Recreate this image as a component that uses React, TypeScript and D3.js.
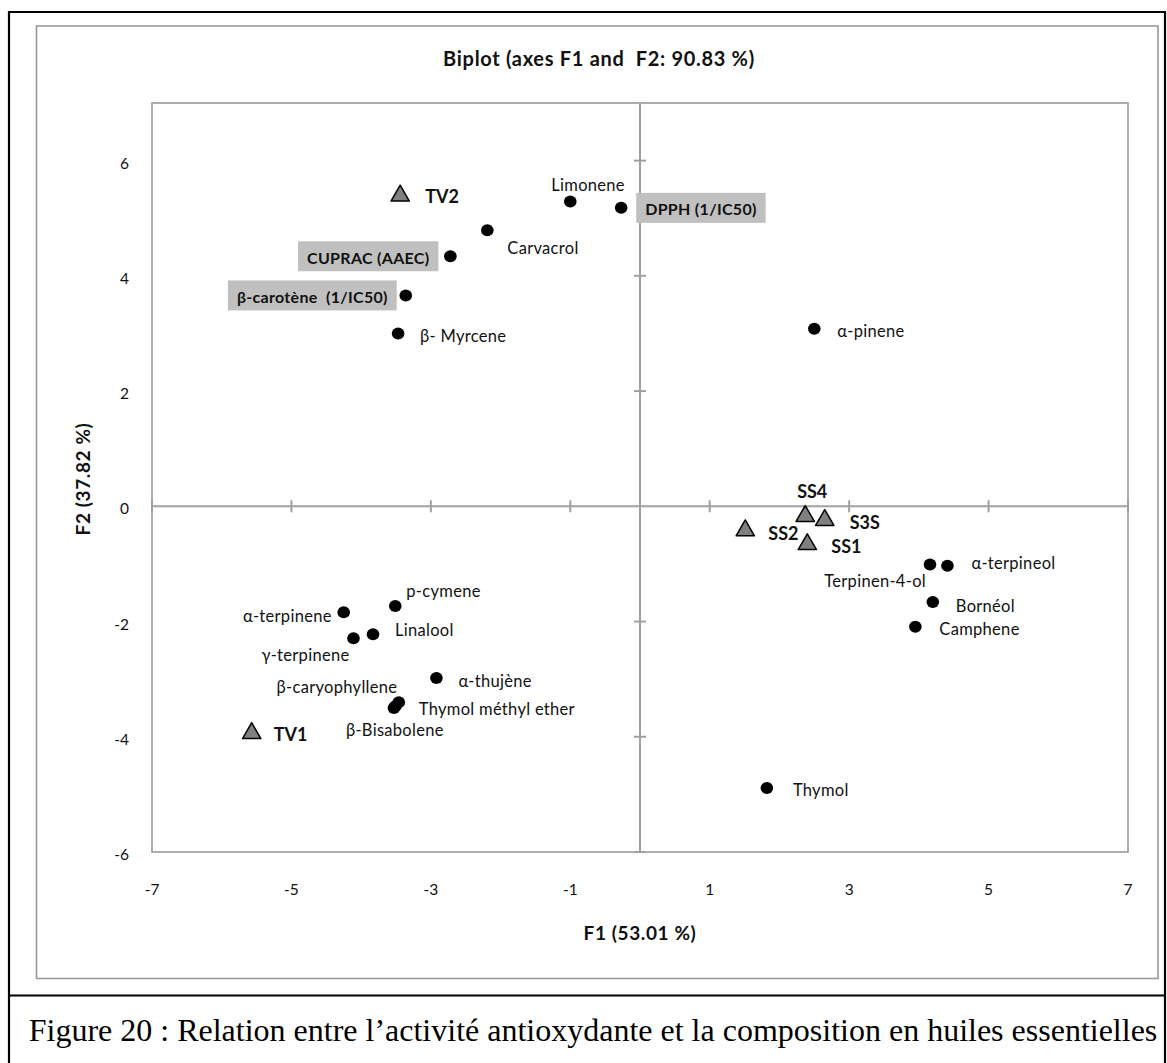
import React, { useEffect, useRef } from "react";
import * as d3 from "d3";

// ---------- DATA ----------
const variableNames = [
  "Limonene", "Carvacrol", "β- Myrcene", "α-pinene", "Terpinen-4-ol", "α-terpineol",
  "Bornéol", "Camphene", "Thymol", "p-cymene", "α-terpinene", "Linalool", "γ-terpinene",
  "α-thujène", "β-caryophyllene", "Thymol méthyl ether", "β-Bisabolene",
];
const variableF1 = [-1.0, -2.19, -3.47, 2.5, 4.16, 4.41, 4.2, 3.95, 1.82, -3.51, -4.25, -3.83, -4.11, -2.92, -3.51, -3.46, -3.53];
const variableF2 = [5.29, 4.79, 3.0, 3.08, -1.01, -1.03, -1.66, -2.09, -4.89, -1.73, -1.84, -2.22, -2.29, -2.98, -3.47, -3.4, -3.5];

const activityNames = ["DPPH (1/IC50)", "CUPRAC (AAEC)", "β-carotène  (1/IC50)"];
const activityF1 = [-0.27, -2.72, -3.36];
const activityF2 = [5.18, 4.34, 3.66];

const observationNames = ["TV2", "TV1", "SS4", "S3S", "SS2", "SS1"];
const observationF1 = [-3.44, -5.57, 2.37, 2.65, 1.51, 2.4];
const observationF2 = [5.39, -3.94, -0.17, -0.24, -0.42, -0.66];

const xTicks = [-7, -5, -3, -1, 1, 3, 5, 7];
const yTicks = [-6, -4, -2, 0, 2, 4, 6];

const chartTitle = "Biplot (axes F1 and  F2: 90.83 %)";
const xTitle = "F1 (53.01 %)";
const yTitle = "F2 (37.82 %)";
const caption = "Figure 20 : Relation entre l’activité antioxydante et la composition en huiles essentielles";

// ---------- LAYOUT (label placement relative to marker, px) ----------
const varLabelLayout: Record<string, [number, number, string]> = {
  "Limonene": [-19, -17, "start"],
  "Carvacrol": [20, 18, "start"],
  "β- Myrcene": [22, 3, "start"],
  "α-pinene": [23, 2, "start"],
  "Terpinen-4-ol": [-4, 17, "end"],
  "α-terpineol": [24, -3, "start"],
  "Bornéol": [23, 4, "start"],
  "Camphene": [24, 2, "start"],
  "Thymol": [26, 2, "start"],
  "p-cymene": [11, -15, "start"],
  "α-terpinene": [-12, 4, "end"],
  "Linalool": [22, -4, "start"],
  "γ-terpinene": [-4, 17, "end"],
  "α-thujène": [22, 3, "start"],
  "β-caryophyllene": [2, -19, "end"],
  "Thymol méthyl ether": [20, 7, "start"],
  "β-Bisabolene": [-48, 22, "start"],
};
const obsLabelLayout: Record<string, [number, number, string]> = {
  "TV2": [25, 0, "start"],
  "TV1": [22, 1, "start"],
  "SS4": [7, -25, "middle"],
  "S3S": [25, 2, "start"],
  "SS2": [23, 2, "start"],
  "SS1": [24, 2, "start"],
};
// [gap from dot, side]: side 1 = box right of dot, -1 = box left of dot
const actLabelLayout: Record<string, [number, number]> = {
  "DPPH (1/IC50)": [15, 1],
  "CUPRAC (AAEC)": [-12, -1],
  "β-carotène  (1/IC50)": [-9, -1],
};

const W = 1167;
const H = 1063;
const FONT = "Lato, 'Open Sans', sans-serif";

export default function App() {
  const ref = useRef<SVGSVGElement | null>(null);

  useEffect(() => {
    const svg = d3.select(ref.current);
    svg.selectAll("*").remove();

    const x = d3.scaleLinear().domain([-7, 7]).range([152, 1128]);
    const y = d3.scaleLinear().domain([-6, 7]).range([852, 103]);
    const axisGray = "#a0a0a0";

    // Outer black frame + caption separator
    svg.append("path")
      .attr("d", `M9,${H + 5} V12 H1165 V${H + 5}`)
      .attr("fill", "none").attr("stroke", "#000").attr("stroke-width", 2.2);
    svg.append("line").attr("x1", 9).attr("x2", 1165).attr("y1", 995.5).attr("y2", 995.5)
      .attr("stroke", "#000").attr("stroke-width", 2.2);

    // Chart area border
    svg.append("rect").attr("x", 36.5).attr("y", 26).attr("width", 1121.5).attr("height", 952.5)
      .attr("fill", "none").attr("stroke", "#999").attr("stroke-width", 1.6);

    // Plot area border
    svg.append("rect").attr("x", x(-7)).attr("y", y(7)).attr("width", x(7) - x(-7)).attr("height", y(-6) - y(7))
      .attr("fill", "none").attr("stroke", "#999").attr("stroke-width", 1.6);

    // Axes lines through origin
    svg.append("line").attr("x1", x(-7)).attr("x2", x(7)).attr("y1", y(0)).attr("y2", y(0))
      .attr("stroke", axisGray).attr("stroke-width", 2);
    svg.append("line").attr("x1", x(0)).attr("x2", x(0)).attr("y1", y(7)).attr("y2", y(-6))
      .attr("stroke", axisGray).attr("stroke-width", 2);

    // Tick marks crossing axes
    svg.append("g").selectAll("line").data(xTicks).join("line")
      .attr("x1", (d) => x(d)).attr("x2", (d) => x(d))
      .attr("y1", y(0) - 6).attr("y2", y(0) + 6)
      .attr("stroke", axisGray).attr("stroke-width", 2);
    svg.append("g").selectAll("line").data(yTicks.filter((d) => d !== 0)).join("line")
      .attr("y1", (d) => y(d)).attr("y2", (d) => y(d))
      .attr("x1", x(0) - 6).attr("x2", x(0) + 6)
      .attr("stroke", axisGray).attr("stroke-width", 2);

    // Tick labels
    svg.append("g").selectAll("text").data(xTicks).join("text")
      .attr("x", (d) => x(d)).attr("y", 889)
      .attr("text-anchor", "middle").attr("dominant-baseline", "central")
      .attr("font-family", FONT).attr("font-size", 15.5).attr("fill", "#111")
      .text((d) => String(d));
    svg.append("g").selectAll("text").data(yTicks).join("text")
      .attr("x", 129).attr("y", (d) => y(d) + 2)
      .attr("text-anchor", "end").attr("dominant-baseline", "central")
      .attr("font-family", FONT).attr("font-size", 15.5).attr("fill", "#111")
      .text((d) => String(d));

    // Titles
    svg.append("text").attr("x", 599).attr("y", 58)
      .attr("text-anchor", "middle").attr("dominant-baseline", "central")
      .attr("font-family", FONT).attr("font-weight", "bold").attr("font-size", 20).attr("fill", "#111")
      .attr("letter-spacing", 0.7)
      .style("white-space", "pre")
      .text(chartTitle);
    svg.append("text").attr("x", 640).attr("y", 932)
      .attr("text-anchor", "middle").attr("dominant-baseline", "central")
      .attr("font-family", FONT).attr("font-weight", "bold").attr("font-size", 19).attr("fill", "#111")
      .attr("letter-spacing", 0.6)
      .text(xTitle);
    svg.append("text").attr("transform", `translate(82,479) rotate(-90)`)
      .attr("text-anchor", "middle").attr("dominant-baseline", "central")
      .attr("font-family", FONT).attr("font-weight", "bold").attr("font-size", 19).attr("fill", "#111")
      .attr("letter-spacing", 0.6)
      .text(yTitle);

    // Variable points
    const vars = variableNames.map((n, i) => ({ n, f1: variableF1[i], f2: variableF2[i] }));
    svg.append("g").selectAll("ellipse").data(vars).join("ellipse")
      .attr("cx", (d) => x(d.f1)).attr("cy", (d) => y(d.f2))
      .attr("rx", 6.3).attr("ry", 6).attr("fill", "#000");
    svg.append("g").selectAll("text").data(vars).join("text")
      .attr("x", (d) => x(d.f1) + varLabelLayout[d.n][0])
      .attr("y", (d) => y(d.f2) + varLabelLayout[d.n][1])
      .attr("text-anchor", (d) => varLabelLayout[d.n][2])
      .attr("dominant-baseline", "central")
      .attr("font-family", FONT).attr("font-size", 16.5).attr("fill", "#111")
      .attr("letter-spacing", 0.3)
      .text((d) => d.n);

    // Activity points with gray boxes
    const acts = activityNames.map((n, i) => ({ n, f1: activityF1[i], f2: activityF2[i] }));
    const ag = svg.append("g");
    acts.forEach((d) => {
      const cx = x(d.f1);
      const cy = y(d.f2);
      const [gap, side] = actLabelLayout[d.n];
      const g = ag.append("g");
      const rect = g.append("rect").attr("fill", "#c0c0c0");
      const t = g.append("text")
        .attr("dominant-baseline", "central")
        .attr("font-family", FONT).attr("font-weight", "bold").attr("font-size", 16).attr("fill", "#111")
        .attr("letter-spacing", 0.3)
        .style("white-space", "pre")
        .text(d.n);
      const tw = (t.node() as SVGTextElement).getComputedTextLength();
      const pad = 9;
      const bw = tw + pad * 2;
      const bx = side > 0 ? cx + gap : cx + gap - bw;
      rect.attr("x", bx).attr("y", cy - 15).attr("width", bw).attr("height", 30);
      t.attr("x", bx + pad).attr("y", cy + 1);
      g.append("ellipse").attr("cx", cx).attr("cy", cy).attr("rx", 6.3).attr("ry", 6).attr("fill", "#000");
    });

    // Observations (triangles)
    const obs = observationNames.map((n, i) => ({ n, f1: observationF1[i], f2: observationF2[i] }));
    const tri = d3.symbol().type(d3.symbolTriangle).size(145);
    svg.append("g").selectAll("path").data(obs).join("path")
      .attr("d", tri as any)
      .attr("transform", (d) => `translate(${x(d.f1)},${y(d.f2)})`)
      .attr("fill", "#808080").attr("stroke", "#000").attr("stroke-width", 1.5).attr("stroke-linejoin", "round");
    svg.append("g").selectAll("text").data(obs).join("text")
      .attr("x", (d) => x(d.f1) + obsLabelLayout[d.n][0])
      .attr("y", (d) => y(d.f2) + obsLabelLayout[d.n][1])
      .attr("text-anchor", (d) => obsLabelLayout[d.n][2])
      .attr("dominant-baseline", "central")
      .attr("font-family", FONT).attr("font-weight", "bold").attr("font-size", 18).attr("fill", "#111")
      .text((d) => d.n);

    // Caption
    svg.append("text").attr("x", 593).attr("y", 1030)
      .attr("text-anchor", "middle").attr("dominant-baseline", "central")
      .attr("font-family", "'Liberation Serif', 'Times New Roman', serif").attr("font-size", 32).attr("fill", "#000")
      .text(caption);
  }, []);

  return (
    <svg
      ref={ref}
      width={W}
      height={H}
      viewBox={`0 0 ${W} ${H}`}
      style={{ position: "absolute", left: 0, top: 0, background: "#fff" }}
    />
  );
}
